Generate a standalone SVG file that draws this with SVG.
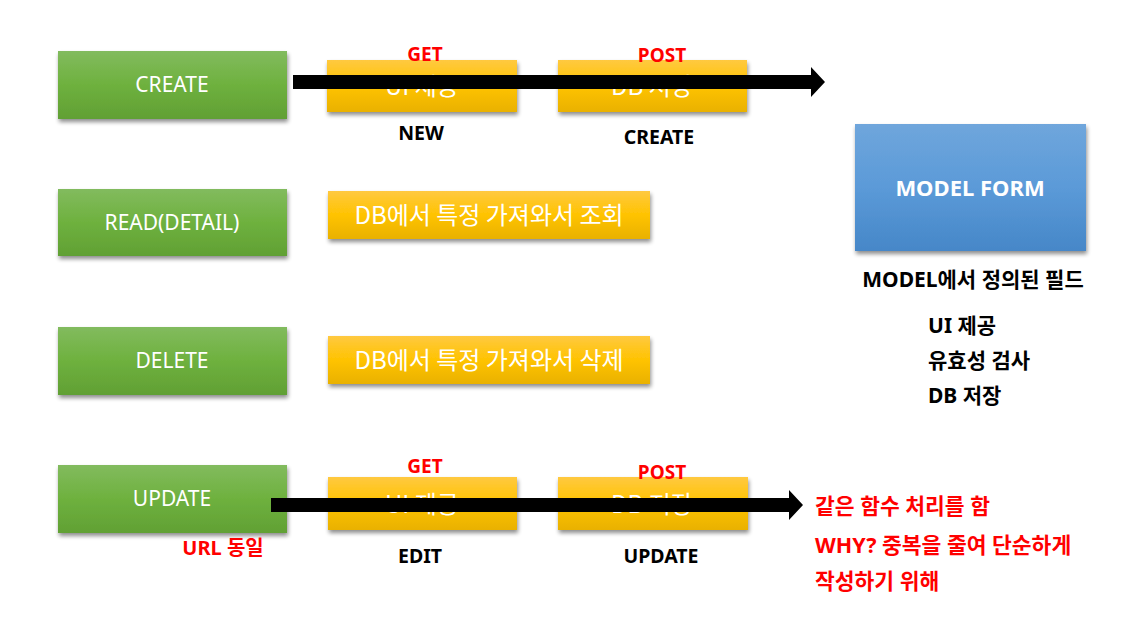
<svg xmlns="http://www.w3.org/2000/svg" width="1135" height="628" viewBox="0 0 1135 628">
  <defs>
    <linearGradient id="gGreen" x1="0" y1="0" x2="0" y2="1">
      <stop offset="0" stop-color="#82bb5e"/>
      <stop offset="0.5" stop-color="#6eb13e"/>
      <stop offset="1" stop-color="#61a034"/>
    </linearGradient>
    <linearGradient id="gYellow" x1="0" y1="0" x2="0" y2="1">
      <stop offset="0" stop-color="#ffc940"/>
      <stop offset="0.5" stop-color="#ffc300"/>
      <stop offset="1" stop-color="#e9b100"/>
    </linearGradient>
    <linearGradient id="gBlue" x1="0" y1="0" x2="0" y2="1">
      <stop offset="0" stop-color="#6fa6dc"/>
      <stop offset="0.5" stop-color="#5b9ad8"/>
      <stop offset="1" stop-color="#4687c8"/>
    </linearGradient>
    <filter id="shadow" x="-10%" y="-20%" width="120%" height="150%">
      <feGaussianBlur in="SourceAlpha" stdDeviation="2"/>
      <feOffset dx="1" dy="3" result="b"/>
      <feComponentTransfer><feFuncA type="linear" slope="0.45"/></feComponentTransfer>
      <feMerge><feMergeNode/><feMergeNode in="SourceGraphic"/></feMerge>
    </filter>
  </defs>
  <style>
    .green { fill: url(#gGreen); filter: url(#shadow); }
    .yellow { fill: url(#gYellow); filter: url(#shadow); }
    .blue { fill: url(#gBlue); filter: url(#shadow); }
    .wt { fill: #ffffff; font-family: "Noto Sans", "Noto Sans CJK KR", sans-serif; font-size: 21px; text-anchor: middle; }
    .wk { fill: #ffffff; font-family: "Noto Sans CJK KR", sans-serif; font-size: 24px; text-anchor: middle; }
    .bl { fill: #000000; font-family: "Noto Sans", "Noto Sans CJK KR", sans-serif; font-size: 19.5px; font-weight: bold; text-anchor: middle; }
    .bk { fill: #000000; font-family: "Noto Sans", "Noto Sans CJK KR", sans-serif; font-size: 21px; font-weight: bold; }
    .rd { fill: #ff0000; font-family: "Noto Sans", "Noto Sans CJK KR", sans-serif; font-size: 19px; font-weight: bold; text-anchor: middle; }
    .rk { fill: #ff0000; font-family: "Noto Sans", "Noto Sans CJK KR", sans-serif; font-size: 21.5px; font-weight: bold; }
    .arrow { fill: #000000; }
  </style>

  <g id="create">
    <rect class="green" x="58" y="51" width="229" height="68"/>
    <text class="wt" x="172" y="92">CREATE</text>
  </g>
  <g id="read">
    <rect class="green" x="58" y="189" width="229" height="67"/>
    <text class="wt" x="172" y="230">READ(DETAIL)</text>
  </g>
  <g id="delete">
    <rect class="green" x="58" y="327" width="229" height="68"/>
    <text class="wt" x="172" y="368">DELETE</text>
  </g>
  <g id="update">
    <rect class="green" x="58" y="465" width="229" height="68"/>
    <text class="wt" x="172" y="506">UPDATE</text>
  </g>

  <g id="create-ui">
    <rect class="yellow" x="327" y="60" width="190" height="52"/>
    <text class="wk" x="422" y="95">UI 제공</text>
  </g>
  <g id="create-db">
    <rect class="yellow" x="558" y="60" width="189" height="52"/>
    <text class="wk" x="652" y="95">DB 저장</text>
  </g>
  <g id="read-db">
    <rect class="yellow" x="328" y="191" width="322" height="48"/>
    <text class="wk" x="489" y="224">DB에서 특정 가져와서 조회</text>
  </g>
  <g id="delete-db">
    <rect class="yellow" x="328" y="336" width="322" height="48"/>
    <text class="wk" x="489" y="369">DB에서 특정 가져와서 삭제</text>
  </g>
  <g id="update-ui">
    <rect class="yellow" x="328" y="477" width="189" height="53"/>
    <text class="wk" x="422" y="513">UI 제공</text>
  </g>
  <g id="update-db">
    <rect class="yellow" x="558" y="477" width="190" height="53"/>
    <text class="wk" x="652" y="513">DB 저장</text>
  </g>

  <g id="model-form">
    <rect class="blue" x="855" y="124" width="231" height="127"/>
    <text class="wt" x="970" y="196" style="font-weight:bold;font-size:22px">MODEL FORM</text>
  </g>

  <g id="labels">
    <text class="rd" x="425" y="61">GET</text>
    <text class="rd" x="662" y="62">POST</text>
    <text class="bl" x="421" y="140">NEW</text>
    <text class="bl" x="659" y="144">CREATE</text>
    <text class="rd" x="425" y="473">GET</text>
    <text class="rd" x="662" y="479">POST</text>
    <text class="bl" x="420" y="563">EDIT</text>
    <text class="bl" x="661" y="563">UPDATE</text>
    <text class="bk" x="223" y="555" style="fill:#ff0000;text-anchor:middle;font-size:20px">URL 동일</text>
    <text class="bk" x="973" y="287" style="text-anchor:middle">MODEL에서 정의된 필드</text>
    <text class="bk" x="928" y="333">UI 제공</text>
    <text class="bk" x="928" y="368">유효성 검사</text>
    <text class="bk" x="928" y="403">DB 저장</text>
    <text class="rk" x="815" y="514">같은 함수 처리를 함</text>
    <text class="rk" x="815" y="553">WHY? 중복을 줄여 단순하게</text>
    <text class="rk" x="815" y="589">작성하기 위해</text>
  </g>

  <g id="connectors">
    <polygon class="arrow" points="293,75 811,75 811,67 825,82 811,97 811,89 293,89"/>
    <polygon class="arrow" points="271,498 789,498 789,490 803,505 789,520 789,512 271,512"/>
  </g>
</svg>
